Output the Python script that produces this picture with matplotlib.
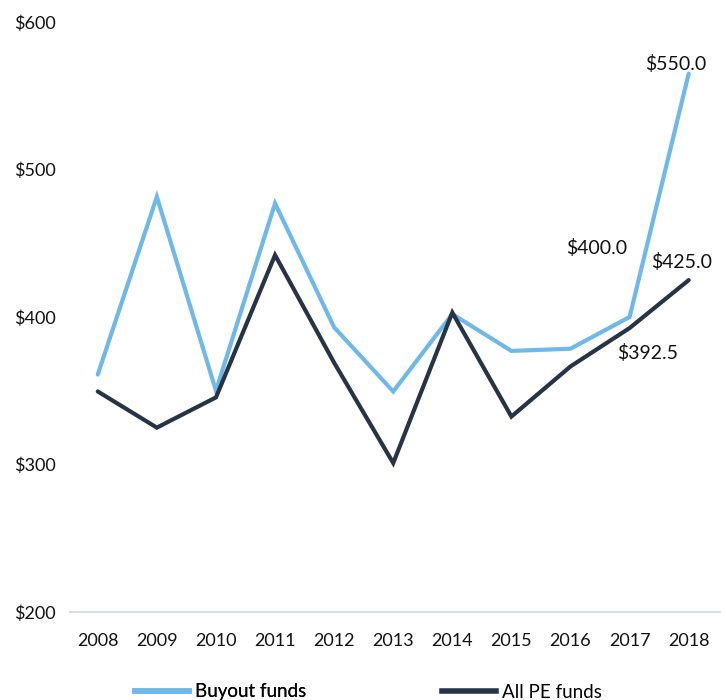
import matplotlib
matplotlib.use("Agg")
import matplotlib.pyplot as plt
from matplotlib.lines import Line2D

plt.rcParams["font.family"] = ["Lato", "DejaVu Sans"]

years = [2008, 2009, 2010, 2011, 2012, 2013, 2014, 2015, 2016, 2017, 2018]
buyout = [361, 481.5, 350, 477, 393, 349.5, 402, 377, 378.5, 400, 565]
all_pe = [349.5, 325, 345.5, 442, 369, 301, 403, 332.5, 366.5, 392.5, 425]
y_ticks = [200, 300, 400, 500, 600]

buyout_color = "#6FB9EA"
all_pe_color = "#263445"

fig = plt.figure(figsize=(7.26, 7.0), dpi=100)
ax = fig.add_axes([70 / 726, 1 - 612 / 700, 650 / 726, 590 / 700])

ax.plot(years, buyout, color=buyout_color, lw=3, solid_capstyle="round", solid_joinstyle="miter")
ax.plot(years, all_pe, color=all_pe_color, lw=3, solid_capstyle="round", solid_joinstyle="miter")

ax.set_xlim(2007.53, 2018.53)
ax.set_ylim(200, 600)
ax.set_xticks(years)
ax.set_xticklabels([str(y) for y in years])
ax.set_yticks(y_ticks)
ax.set_yticklabels([f"${v}" for v in y_ticks])
ax.tick_params(axis="both", length=0, labelsize=13, colors="#111111")
ax.tick_params(axis="x", pad=15)
ax.tick_params(axis="y", pad=10)

for side in ["top", "right", "left"]:
    ax.spines[side].set_visible(False)
ax.spines["bottom"].set_color("#D9DEE6")
ax.spines["bottom"].set_linewidth(1.5)

# value labels (text as shown in the source chart)
lbl = dict(textcoords="offset pixels", ha="center", va="center", fontsize=14, color="#111111")
ax.annotate("$550.0", xy=(years[-1], buyout[-1]), xytext=(-13, 10), **lbl)
ax.annotate("$400.0", xy=(years[-2], buyout[-2]), xytext=(-33, 69), **lbl)
ax.annotate("$425.0", xy=(years[-1], all_pe[-1]), xytext=(-7, 18), **lbl)
ax.annotate("$392.5", xy=(years[-2], all_pe[-2]), xytext=(18, -25), **lbl)

# legend, placed as two separate entries like the original
leg_kw = dict(frameon=False, fontsize=13.5, handlelength=2.9, handletextpad=0.3,
              borderpad=0, borderaxespad=0, loc="center left")
h1 = Line2D([], [], color=buyout_color, lw=4)
h2 = Line2D([], [], color=all_pe_color, lw=4)
leg1 = fig.legend([h1], ["Buyout funds"], bbox_to_anchor=(135 / 726, 1 - 692 / 700), **leg_kw)
fig.add_artist(leg1)
fig.legend([h2], ["All PE funds"], bbox_to_anchor=(442 / 726, 1 - 692 / 700), **leg_kw)

fig.savefig("out.png", dpi=100)
